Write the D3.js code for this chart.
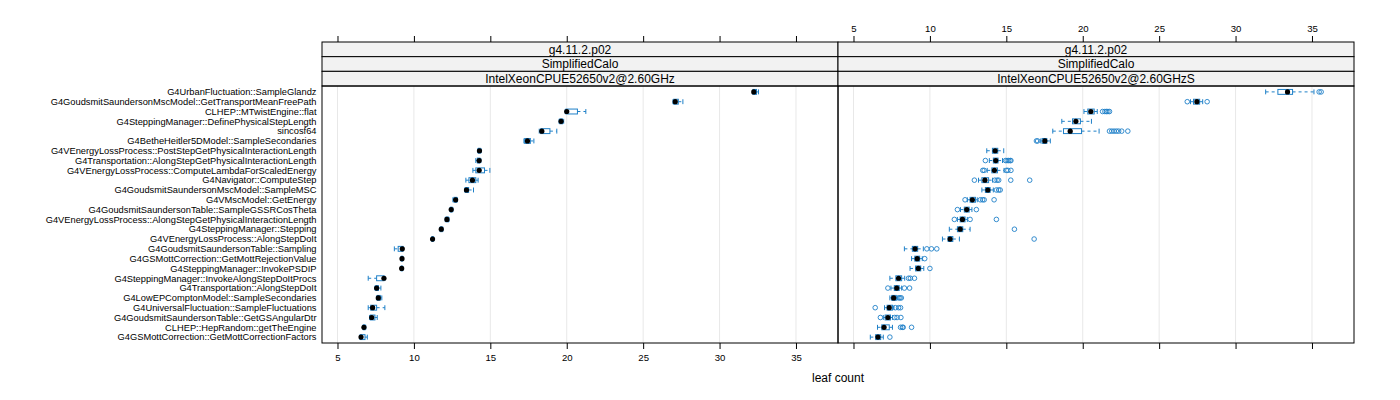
<!DOCTYPE html>
<html>
<head>
<meta charset="utf-8">
<script src="https://cdn.jsdelivr.net/npm/d3@7"></script>
<style>
  html, body { margin: 0; padding: 0; background: #fff; }
  svg { display: block; font-family: "Liberation Sans", Arial, Helvetica, sans-serif; }
</style>
</head>
<body>
<svg id="chart" width="1400" height="400"></svg>
<script>
// ---------------- data ----------------
const categories = [
  "G4UrbanFluctuation::SampleGlandz",
  "G4GoudsmitSaundersonMscModel::GetTransportMeanFreePath",
  "CLHEP::MTwistEngine::flat",
  "G4SteppingManager::DefinePhysicalStepLength",
  "sincosf64",
  "G4BetheHeitler5DModel::SampleSecondaries",
  "G4VEnergyLossProcess::PostStepGetPhysicalInteractionLength",
  "G4Transportation::AlongStepGetPhysicalInteractionLength",
  "G4VEnergyLossProcess::ComputeLambdaForScaledEnergy",
  "G4Navigator::ComputeStep",
  "G4GoudsmitSaundersonMscModel::SampleMSC",
  "G4VMscModel::GetEnergy",
  "G4GoudsmitSaundersonTable::SampleGSSRCosTheta",
  "G4VEnergyLossProcess::AlongStepGetPhysicalInteractionLength",
  "G4SteppingManager::Stepping",
  "G4VEnergyLossProcess::AlongStepDoIt",
  "G4GoudsmitSaundersonTable::Sampling",
  "G4GSMottCorrection::GetMottRejectionValue",
  "G4SteppingManager::InvokePSDIP",
  "G4SteppingManager::InvokeAlongStepDoItProcs",
  "G4Transportation::AlongStepDoIt",
  "G4LowEPComptonModel::SampleSecondaries",
  "G4UniversalFluctuation::SampleFluctuations",
  "G4GoudsmitSaundersonTable::GetGSAngularDtr",
  "CLHEP::HepRandom::getTheEngine",
  "G4GSMottCorrection::GetMottCorrectionFactors"
];

const stripVersion = "g4.11.2.p02";
const stripTest = "SimplifiedCalo";
const panelNames = ["IntelXeonCPUE52650v2@2.60GHz", "IntelXeonCPUE52650v2@2.60GHzS"];
const xTicks = [5, 10, 15, 20, 25, 30, 35];
const xLabel = "leaf count";

// panel 1 (left)
const medA = [32.24, 27.10, 20.00, 19.63, 18.37, 17.43, 14.29, 14.27, 14.27, 13.83, 13.44, 12.73, 12.44, 12.16, 11.79, 11.22, 9.24, 9.22, 9.20, 8.04, 7.56, 7.67, 7.30, 7.24, 6.73, 6.54];
const q1A  = [32.20, 27.00, 19.95, 19.55, 18.30, 17.25, 14.22, 14.15, 14.05, 13.60, 13.38, 12.62, 12.40, 12.10, 11.75, 11.19, 8.97, 9.18, 9.17, 7.56, 7.50, 7.62, 7.17, 7.15, 6.69, 6.50];
const q3A  = [32.42, 27.30, 20.70, 19.72, 18.90, 17.62, 14.34, 14.32, 14.62, 14.05, 13.58, 12.80, 12.50, 12.25, 11.85, 11.26, 9.28, 9.25, 9.24, 8.04, 7.68, 7.80, 7.56, 7.45, 6.80, 6.80];
const loA  = [32.15, 26.95, 19.90, 19.50, 18.20, 17.20, 14.18, 14.05, 13.86, 13.40, 13.32, 12.55, 12.36, 12.05, 11.70, 11.15, 8.72, 9.15, 9.14, 7.01, 7.45, 7.55, 7.01, 7.10, 6.65, 6.45];
const hiA  = [32.55, 27.60, 21.25, 19.80, 19.35, 17.85, 14.40, 14.38, 14.97, 14.20, 13.90, 12.85, 12.55, 12.30, 11.90, 11.30, 9.30, 9.30, 9.28, 8.10, 7.84, 7.90, 8.10, 7.60, 6.85, 6.95];
const outA = categories.map(() => []);

// panel 2 (right)
const medB = [33.40, 27.47, 20.53, 19.55, 19.18, 17.52, 14.27, 14.31, 14.22, 13.60, 13.79, 12.78, 12.41, 12.13, 11.98, 11.32, 9.03, 9.17, 9.24, 7.95, 7.83, 7.63, 7.34, 7.25, 7.00, 6.60];
const q1B  = [32.77, 27.25, 20.33, 19.33, 18.74, 17.34, 14.09, 14.15, 14.05, 13.40, 13.63, 12.63, 12.25, 11.98, 11.80, 11.19, 8.85, 9.01, 9.06, 7.77, 7.67, 7.50, 7.20, 7.07, 6.85, 6.45];
const q3B  = [33.73, 27.65, 20.75, 19.85, 19.92, 17.65, 14.44, 14.46, 14.42, 13.84, 13.94, 12.98, 12.57, 12.30, 12.15, 11.50, 9.20, 9.33, 9.40, 8.15, 7.99, 7.80, 7.55, 7.42, 7.34, 6.78];
const loB  = [31.97, 27.05, 20.08, 18.63, 18.04, 17.25, 13.72, 13.89, 13.75, 13.18, 13.40, 12.45, 12.00, 11.80, 11.27, 10.82, 8.33, 8.80, 8.70, 7.38, 7.45, 7.38, 7.03, 6.95, 6.57, 6.10];
const hiB  = [35.13, 27.85, 20.95, 20.57, 21.07, 17.88, 14.83, 14.75, 14.85, 14.10, 14.15, 13.10, 12.75, 12.45, 12.63, 11.93, 9.57, 9.50, 9.60, 8.35, 8.15, 7.90, 7.65, 7.55, 7.55, 6.95];
const outB = [
  [35.47, 35.60],
  [26.84, 28.14],
  [21.30, 21.45, 21.55, 21.65, 21.75],
  [],
  [21.75, 21.90, 22.05, 22.20, 22.35, 22.55, 22.95],
  [16.97, 17.05],
  [],
  [13.63, 14.95, 15.05, 15.15, 15.25, 15.30],
  [13.46, 13.55, 15.00, 15.10, 15.30],
  [12.91, 14.25, 14.40, 14.50, 15.29, 16.53],
  [14.35, 14.50, 14.60],
  [12.30, 13.30, 13.45, 13.55, 14.20],
  [11.80, 13.04],
  [11.60, 12.63, 14.35],
  [15.53],
  [16.82],
  [9.80, 10.10, 10.45],
  [9.66],
  [10.00],
  [8.60, 8.72, 8.99],
  [7.25, 8.33, 8.67],
  [7.97, 8.05, 8.13],
  [6.42, 7.74, 7.95, 8.08],
  [6.76, 7.70, 7.85, 8.10],
  [8.08, 8.20, 8.25, 8.80],
  [7.38]
];

const panelsData = [
  { name: panelNames[0], med: medA, q1: q1A, q3: q3A, lo: loA, hi: hiA, out: outA },
  { name: panelNames[1], med: medB, q1: q1B, q3: q3B, lo: loB, hi: hiB, out: outB }
];

// ---------------- layout ----------------
const blue = "#1f80c8";
const svg = d3.select("#chart");
const panelLeft = [322, 838];
const panelW = 516;
const stripTop = 42, stripH = 14.67;
const plotTop = stripTop + 3 * stripH;  // ~86
const plotBottom = 343;

const x = d3.scaleLinear().domain([3.986, 37.75]).range([0, panelW]);
const y = d3.scalePoint().domain(categories).range([plotTop, plotBottom]).padding(0.6);
const boxH = y.step() * 0.5;

// category labels
svg.append("g").selectAll("text").data(categories).join("text")
  .attr("x", 316.5)
  .attr("y", d => y(d))
  .attr("dy", "0.35em")
  .attr("text-anchor", "end")
  .attr("font-size", 9.3)
  .attr("fill", "#000")
  .text(d => d);

panelsData.forEach((p, pi) => {
  const g = svg.append("g").attr("transform", `translate(${panelLeft[pi]},0)`);

  // grid
  g.append("g").selectAll("line").data(xTicks).join("line")
    .attr("x1", d => x(d)).attr("x2", d => x(d))
    .attr("y1", plotTop).attr("y2", plotBottom)
    .attr("stroke", "#e8e8e8").attr("stroke-width", 1);

  // strips
  const strips = [stripVersion, stripTest, p.name];
  strips.forEach((s, si) => {
    const sy = stripTop + si * stripH;
    g.append("rect").attr("x", 0).attr("y", sy).attr("width", panelW).attr("height", stripH)
      .attr("fill", "#f2f2f2").attr("stroke", "#000").attr("stroke-width", 1);
    g.append("text").attr("x", panelW / 2).attr("y", sy + stripH / 2).attr("dy", "0.36em")
      .attr("text-anchor", "middle").attr("font-size", 12).attr("fill", "#000").text(s);
  });

  // boxplots
  const rows = categories.map((c, i) => ({
    c, med: p.med[i], q1: p.q1[i], q3: p.q3[i], lo: p.lo[i], hi: p.hi[i], out: p.out[i]
  }));
  const bg = g.append("g");
  const row = bg.selectAll("g.row").data(rows).join("g").attr("class", "row");

  // whiskers (dashed)
  row.append("line")
    .attr("x1", d => x(d.lo)).attr("x2", d => x(d.q1))
    .attr("y1", d => y(d.c)).attr("y2", d => y(d.c))
    .attr("stroke", blue).attr("stroke-width", 1).attr("stroke-dasharray", "3,3");
  row.append("line")
    .attr("x1", d => x(d.q3)).attr("x2", d => x(d.hi))
    .attr("y1", d => y(d.c)).attr("y2", d => y(d.c))
    .attr("stroke", blue).attr("stroke-width", 1).attr("stroke-dasharray", "3,3");
  // caps
  row.append("line")
    .attr("x1", d => x(d.lo)).attr("x2", d => x(d.lo))
    .attr("y1", d => y(d.c) - boxH / 2).attr("y2", d => y(d.c) + boxH / 2)
    .attr("stroke", blue).attr("stroke-width", 1);
  row.append("line")
    .attr("x1", d => x(d.hi)).attr("x2", d => x(d.hi))
    .attr("y1", d => y(d.c) - boxH / 2).attr("y2", d => y(d.c) + boxH / 2)
    .attr("stroke", blue).attr("stroke-width", 1);
  // box
  row.append("rect")
    .attr("x", d => x(d.q1)).attr("width", d => Math.max(0.5, x(d.q3) - x(d.q1)))
    .attr("y", d => y(d.c) - boxH / 2).attr("height", boxH)
    .attr("fill", "none").attr("stroke", blue).attr("stroke-width", 1);
  // outliers
  row.selectAll("circle.out").data(d => d.out.map(v => ({ v, c: d.c }))).join("circle")
    .attr("class", "out")
    .attr("cx", d => x(d.v)).attr("cy", d => y(d.c)).attr("r", 2.3)
    .attr("fill", "none").attr("stroke", blue).attr("stroke-width", 0.9);
  // median dot
  row.append("circle")
    .attr("cx", d => x(d.med)).attr("cy", d => y(d.c)).attr("r", 2.6)
    .attr("fill", "#000");

  // panel border
  g.append("rect").attr("x", 0).attr("y", plotTop).attr("width", panelW).attr("height", plotBottom - plotTop)
    .attr("fill", "none").attr("stroke", "#000").attr("stroke-width", 1);

  // axes
  const top = g.append("g").attr("transform", `translate(0,${stripTop})`)
    .call(d3.axisTop(x).tickValues(xTicks).tickSize(6).tickPadding(4).tickFormat(pi === 1 ? d3.format("d") : () => ""));
  const bot = g.append("g").attr("transform", `translate(0,${plotBottom})`)
    .call(d3.axisBottom(x).tickValues(xTicks).tickSize(6).tickPadding(5).tickFormat(pi === 0 ? d3.format("d") : () => ""));
  [top, bot].forEach(a => {
    a.select(".domain").remove();
    a.selectAll("line").attr("stroke", "#000");
    a.selectAll("text").attr("font-size", 9.6).attr("fill", "#000").attr("font-family", "Liberation Sans, Arial, sans-serif");
  });
});

// x-axis title
svg.append("text")
  .attr("x", (panelLeft[0] + panelLeft[1] + panelW) / 2)
  .attr("y", 378).attr("dy", "0.35em")
  .attr("text-anchor", "middle").attr("font-size", 12).attr("fill", "#000")
  .text(xLabel);
</script>
</body>
</html>
